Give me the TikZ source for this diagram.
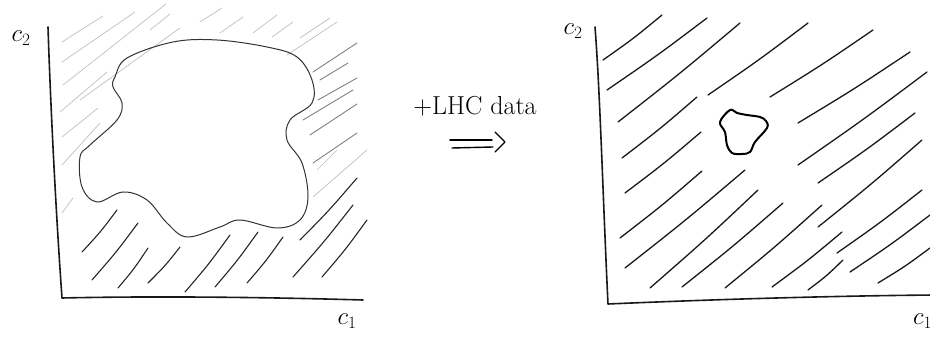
\documentclass[tikz,border=0pt]{standalone}
\usetikzlibrary{calc}
\begin{document}
\begin{tikzpicture}[x=1pt,y=-1pt,line cap=round,line join=round,
  axisline/.style={line width=1.6pt,black!90},
  faint/.style={line width=0.7pt,black!25},
  midhatch/.style={line width=0.9pt,black!50},
  darkhatch/.style={line width=1.1pt,black!85},
  rhatch/.style={line width=1.3pt,black!90},
  blobline/.style={line width=1pt,black!80},
  lbl/.style={inner sep=0pt,font=\fontsize{26}{26}\selectfont}]
\useasboundingbox (0,0) rectangle (930,339);
\clip (0,0) rectangle (930,339);
% ---------- left panel ----------
\coordinate (LO) at (62,298);
\coordinate (LY) at (48,27);
\coordinate (LX) at (363,300);
\draw[axisline] (LY) .. controls (50,90) and (55,200) .. (LO) .. controls (150,296) and (260,297) .. (LX);
\node[lbl] (lc2) at (21,38) {$c_2$};
\node[lbl] (lc1) at (347,321) {$c_1$};
% faint hatch (upper left and top)
\foreach \a/\b/\c/\d in {
  62/42/103/16, 62/62/135/12, 63/85/166/4, 80/100/180/28,
  60/112/107/72, 62/137/98/108, 62/165/100/123, 62/213/73/198,
  150/30/170/14, 200/22/222/8, 220/33/243/17, 253/33/277/15,
  272/37/293/22, 287/55/337/22, 300/38/330/18, 313/197/367/150, 317/170/337/150}
  \draw[faint] (\a,\b) -- (\c,\d);
% mid hatch (right side)
\foreach \a/\b/\c/\d in {
  313/72/357/43, 320/80/348/63, 318/100/357/78, 303/120/353/90,
  310/135/357/104, 313/163/357/133}
  \draw[midhatch] (\a,\b) -- (\c,\d);
% dark hatch (bottom and lower right)
\foreach \a/\b/\c/\d in {
  82/252/117/210, 92/280/138/223, 118/288/148/248, 148/283/180/247,
  185/292/230/235, 215/287/258/232, 247/283/283/237,
  300/240/357/178, 293/277/353/205, 322/277/367/220}
  \draw[darkhatch] (\a,\b) .. controls ($(\a,\b)!0.5!(\c,\d)+(1,1)$) .. (\c,\d);
% big blob
\draw[blobline] plot[smooth cycle,tension=0.6] coordinates {
  (115,77) (127,58) (173,42) (217,40) (267,47) (297,57) (312,80) (312,103)
  (290,120) (287,140) (302,163) (308,197) (300,220) (277,228) (240,220)
  (220,227) (187,237) (167,223) (147,200) (123,192) (97,202) (82,187)
  (80,157) (90,145) (117,120) (122,103) (113,87)};
% ---------- middle ----------
\node[inner sep=0pt,font=\fontsize{26}{26}\selectfont] (txt) at (475,106) {+LHC data};
\coordinate (a1) at (450,140); \coordinate (a2) at (492,140);
\coordinate (b1) at (452,148); \coordinate (b2) at (493,147);
\coordinate (c1) at (495,132); \coordinate (c2) at (505,142); \coordinate (c3) at (495,152);
\draw[line width=1.4pt] (a1) -- (a2);
\draw[line width=1.4pt] (b1) -- (b2);
\draw[line width=1.4pt] (c1) -- (c2) -- (c3);
% ---------- right panel ----------
\coordinate (RO) at (608,304);
\coordinate (RY) at (595,27);
\coordinate (RX) at (935,295);
\draw[axisline] (RY) .. controls (600,90) and (603,200) .. (RO) .. controls (700,300) and (820,296) .. (RX);
\node[lbl] (rc2) at (573,31) {$c_2$};
\node[lbl,anchor=west] (rc1) at (913,321) {$c_1$};
\foreach \a/\b/\c/\d in {
  603/60/662/15, 607/90/707/18, 618/122/740/23, 708/95/808/23,
  770/97/873/30, 798/123/910/52, 798/165/927/72, 818/183/915/113,
  818/227/922/140, 622/158/697/97, 625/193/701/132, 620/238/702/171,
  625/268/745/170, 650/288/758/190, 682/287/783/203, 725/288/822/205,
  772/287/842/232, 808/290/843/260, 837/253/922/190, 850/272/930/215,
  878/283/930/248}
  \draw[rhatch] (\a,\b) .. controls ($(\a,\b)!0.5!(\c,\d)+(1,1)$) .. (\c,\d);
% small blob
\draw[line width=2pt,black] plot[smooth cycle,tension=0.6] coordinates {
  (730,110) (720,122) (725,132) (727,145) (732,153) (742,154) (750,152)
  (755,142) (767,128) (766,121) (760,117) (747,115) (737,113)};
\end{tikzpicture}
\end{document}
